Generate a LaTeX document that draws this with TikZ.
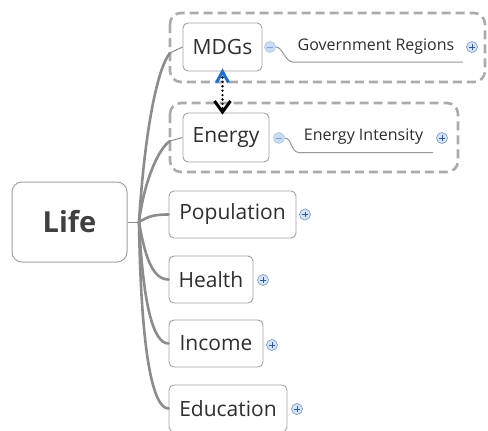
\documentclass[tikz,border=0pt]{standalone}
\usepackage{fontspec}
\setmainfont{Open Sans}
\usetikzlibrary{arrows.meta}

\definecolor{boxline}{HTML}{A2A2A2}
\definecolor{grpline}{HTML}{ABABAB}
\definecolor{branchcol}{HTML}{8C8C8C}
\definecolor{txt}{HTML}{2E2E2E}
\definecolor{plusfill}{HTML}{D5E3F4}
\definecolor{plusline}{HTML}{7D9FCB}
\definecolor{plussign}{HTML}{2B5896}
\definecolor{minusfill}{HTML}{CADCF2}
\definecolor{minusline}{HTML}{A9C4E6}
\definecolor{tipblue}{HTML}{1F6FD0}

\tikzset{
  topic/.style={draw=boxline, line width=0.9pt, rounded corners=5pt, fill=white,
    text=txt, inner sep=0pt, font=\fontsize{21}{25}\selectfont},
  central/.style={draw=boxline, line width=1pt, rounded corners=10pt, fill=white,
    text=black!75, inner sep=0pt, font=\fontsize{29}{33}\selectfont\bfseries},
  subtopic/.style={text=txt, inner sep=0pt, font=\fontsize{16}{19}\selectfont},
  group/.style={draw=grpline, line width=2.6pt, rounded corners=11pt,
    dash pattern=on 9pt off 5pt},
  branch/.style={draw=branchcol, line width=2.6pt, line cap=round},
  lead/.style={draw=branchcol, line width=1pt},
  subline/.style={draw=branchcol!90, line width=1pt},
  expander/.style={circle, draw=plusline, fill=plusfill, line width=0.7pt,
    minimum size=11pt, inner sep=0pt,
    path picture={\draw[plussign, line width=1pt]
      ([xshift=-2.8pt]path picture bounding box.center) -- ([xshift=2.8pt]path picture bounding box.center)
      ([yshift=-2.8pt]path picture bounding box.center) -- ([yshift=2.8pt]path picture bounding box.center);}},
  collapser/.style={circle, draw=minusline, fill=minusfill, line width=0.6pt,
    minimum size=11pt, inner sep=0pt,
    path picture={\draw[minusline!80!blue, line width=1pt]
      ([xshift=-2.8pt]path picture bounding box.center) -- ([xshift=2.8pt]path picture bounding box.center);}},
  relation/.style={line width=2.6pt, dash pattern=on 0pt off 4.4pt, line cap=round,
    {Straight Barb[color=tipblue, length=11pt, width=12pt, line width=3pt, line cap=butt]}-{Straight Barb[length=11pt, width=16pt, line width=3pt, line cap=butt]}}
}

\begin{document}
\begin{tikzpicture}[x=1pt, y=-1pt]
  \useasboundingbox (0,0) rectangle (488,431);
  \fill[white] (0,0) rectangle (488,431);

  % dashed group frames
  \draw[group] (170,13) rectangle (485,82);
  \draw[group] (170,103) rectangle (458,172);

  % central topic and hub
  \node[central, minimum width=115pt, minimum height=80pt] (life) at (69.5,222) {Life};
  \coordinate (hub) at (139,222);

  % main topics
  \node[topic, minimum width=79pt, minimum height=48pt] (mdgs) at (222.5,47) {MDGs};
  \node[topic, minimum width=86pt, minimum height=49pt] (energy) at (226,137.5) {Energy};
  \node[topic, minimum width=127pt, minimum height=47pt] (population) at (232.5,214.5) {Population};
  \node[topic, minimum width=84pt, minimum height=47pt] (health) at (211,279.5) {Health};
  \node[topic, minimum width=94pt, minimum height=47pt] (income) at (216,343.5) {Income};
  \node[topic, minimum width=118pt, minimum height=47pt] (education) at (228,408.5) {Education};

  % lead-in points for the framed topics
  \coordinate (mdgsin) at (170,53);
  \coordinate (energyin) at (170,141);

  % branches from the central topic
  \draw[lead] (life.east) -- (hub);
  \draw[branch] (hub) .. controls +(6,-95) and +(-12,14) .. (mdgsin);
  \draw[lead] (mdgsin) -- (mdgs.west);
  \draw[branch] (hub) .. controls +(5,-40) and +(-12,8) .. (energyin);
  \draw[lead] (energyin) -- (energy.west);
  \draw[branch] (hub) .. controls +(10,-6) and +(-14,0) .. (population.west);
  \draw[branch] (hub) .. controls +(6,35) and +(-16,0) .. (health.west);
  \draw[branch] (hub) .. controls +(4,80) and +(-16,0) .. (income.west);
  \draw[branch] (hub) .. controls +(2,130) and +(-16,0) .. (education.west);

  % collapse markers and subtopics
  \node[collapser] (mdgsminus) at (270,47) {};
  \node[collapser] (energyminus) at (279,138) {};
  \node[subtopic] (govreg) at (376,47) {Government Regions};
  \node[subtopic] (intensity) at (363.5,137) {Energy Intensity};
  \coordinate (govend) at (463,62);
  \coordinate (intend) at (433,152.5);
  \draw[subline] (mdgsminus.east) .. controls +(7,0) and +(-8,0) .. ([xshift=-170pt]govend) -- (govend);
  \draw[subline] (energyminus.east) .. controls +(7,0) and +(-8,0) .. ([xshift=-134pt]intend) -- (intend);

  % expand markers
  \node[expander] (govplus) at (472,47) {};
  \node[expander] (intplus) at (442,138) {};
  \node[expander] (popplus) at (305,214.5) {};
  \node[expander] (healthplus) at (263,280) {};
  \node[expander] (incomeplus) at (272,345) {};
  \node[expander] (eduplus) at (297,409) {};

  % relationship between MDGs and Energy
  \draw[relation] ([yshift=3pt]mdgs.south) -- ([yshift=-2pt]mdgs.south |- energy.north);
\end{tikzpicture}
\end{document}
